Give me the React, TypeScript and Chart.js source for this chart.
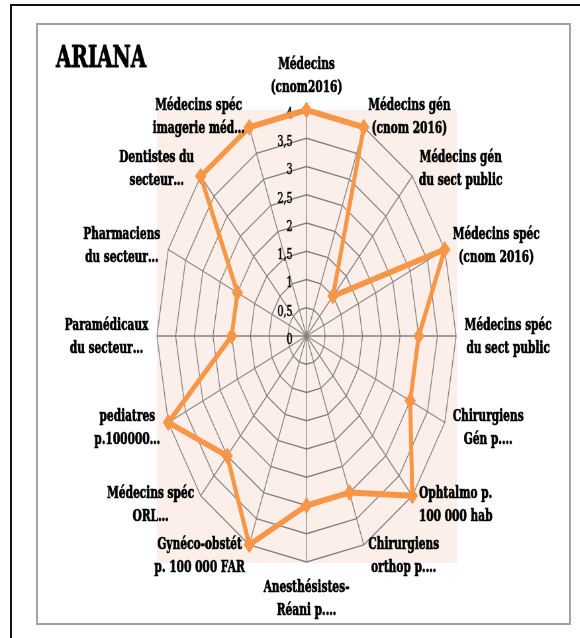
import React, { useEffect, useRef } from 'react';
import { Chart, registerables } from 'chart.js';

Chart.register(...registerables);

const TITLE = 'ARIANA';

const categories: string[][] = [
  ['Médecins', '(cnom2016)'],
  ['Médecins gén', '(cnom 2016)'],
  ['Médecins gén', 'du sect public'],
  ['Médecins spéc', '(cnom 2016)'],
  ['Médecins spéc', 'du sect public'],
  ['Chirurgiens', 'Gén p.…'],
  ['Ophtalmo p.', '100 000 hab'],
  ['Chirurgiens', 'orthop p.…'],
  ['Anesthésistes-', 'Réani p.…'],
  ['Gynéco-obstét', 'p. 100 000 FAR'],
  ['Médecins spéc', 'ORL…'],
  ['pediatres', 'p.100000…'],
  ['Paramédicaux', 'du secteur…'],
  ['Pharmaciens', 'du secteur…'],
  ['Dentistes du', 'secteur…'],
  ['Médecins spéc', 'imagerie méd…'],
];

const values: number[] = [4, 4, 1, 4, 3, 3, 4, 3, 3, 4, 3, 4, 2, 2, 4, 4];

const tickValues: number[] = [0, 0.5, 1, 1.5, 2, 2.5, 3, 3.5, 4];
const tickLabels: string[] = ['0', '0,5', '1', '1,5', '2', '2,5', '3', '3,5', '4'];

// the reference picture is squeezed horizontally
const K = 0.662;
const W = Math.round(580 / K);
const H = 638;

const ORANGE = '#F79646';
const GRID = '#808080';
const PLOT_BG = '#FCEEE8';
const LABEL_FONT = 'bold 16px "DejaVu Serif"';
const TICK_FONT = '14.5px "DejaVu Serif"';
const TITLE_FONT = 'bold 30px "DejaVu Serif"';

const decorPlugin = {
  id: 'decor',
  beforeDraw(chart: any) {
    const { ctx, chartArea: a } = chart;
    ctx.save();
    ctx.fillStyle = PLOT_BG;
    ctx.fillRect(a.left, a.top, a.right - a.left, a.bottom - a.top);
    ctx.restore();
  },
  beforeDatasetsDraw(chart: any) {
    const { ctx } = chart;
    const scale = chart.scales.r;
    ctx.save();
    ctx.font = TICK_FONT;
    ctx.fillStyle = '#000';
    ctx.strokeStyle = '#000';
    ctx.lineWidth = 0.5;
    ctx.textAlign = 'right';
    ctx.textBaseline = 'middle';
    tickValues.forEach((v, i) => {
      const r = scale.getDistanceFromCenterForValue(v);
      const x = scale.xCenter - 21;
      const y = scale.yCenter - r + 4;
      ctx.fillText(tickLabels[i], x, y);
      ctx.strokeText(tickLabels[i], x, y);
    });
    ctx.restore();
  },
  afterDraw(chart: any) {
    const { ctx } = chart;
    const scale = chart.scales.r;
    ctx.save();
    // title
    ctx.font = TITLE_FONT;
    ctx.fillStyle = '#000';
    ctx.strokeStyle = '#000';
    ctx.textAlign = 'left';
    ctx.textBaseline = 'alphabetic';
    ctx.lineWidth = 1;
    ctx.fillText(TITLE, 56 / K, 67);
    ctx.strokeText(TITLE, 56 / K, 67);
    // point labels
    ctx.font = LABEL_FONT;
    ctx.lineWidth = 0.7;
    ctx.textBaseline = 'middle';
    ctx.textAlign = 'center';
    const n = categories.length;
    const lh = 23;
    categories.forEach((lines, i) => {
      const th = (i * 2 * Math.PI) / n;
      const s = Math.sin(th);
      const c = Math.cos(th);
      const p = scale.getPointPosition(i, scale.drawingArea);
      const bw = Math.max(...lines.map((l) => ctx.measureText(l).width));
      let cx: number;
      let cy: number;
      if (Math.abs(s) < 0.01) {
        cx = p.x;
        cy = p.y + (c > 0 ? -34 : 37.5);
      } else {
        const gap = (2 + 6.5 * Math.abs(s)) / K;
        cy = p.y + 1 - 11.5 * c;
        cx = s > 0 ? p.x + gap + bw / 2 : p.x - gap - bw / 2;
      }
      const y0 = cy - ((lines.length - 1) * lh) / 2;
      lines.forEach((l, j) => {
        ctx.fillText(l, cx, y0 + j * lh);
        ctx.strokeText(l, cx, y0 + j * lh);
      });
    });
    ctx.restore();
  },
};

export default function App() {
  const ref = useRef<HTMLCanvasElement | null>(null);

  useEffect(() => {
    document.body.style.overflow = 'hidden';
    const canvas = ref.current;
    if (!canvas) return;
    const chart = new Chart(canvas, {
      type: 'radar',
      data: {
        labels: categories,
        datasets: [
          {
            data: values,
            borderColor: ORANGE,
            backgroundColor: ORANGE,
            borderWidth: 6,
            borderJoinStyle: 'round',
            fill: false,
            tension: 0,
            pointStyle: 'rectRot',
            pointRadius: 8,
            pointBackgroundColor: ORANGE,
            pointBorderColor: ORANGE,
            pointBorderWidth: 1,
          },
        ],
      },
      options: {
        responsive: false,
        maintainAspectRatio: false,
        animation: false,
        devicePixelRatio: 1,
        layout: {
          padding: { left: 237, right: W - 690, top: 110, bottom: H - 563 },
        },
        plugins: {
          legend: { display: false },
          tooltip: { enabled: false },
          title: { display: false },
        },
        scales: {
          r: {
            min: 0,
            max: 4,
            ticks: { stepSize: 0.5, display: false },
            grid: { circular: false, color: GRID, lineWidth: 1.3 },
            angleLines: { display: true, color: GRID, lineWidth: 1.3 },
            pointLabels: { display: false },
          },
        },
      },
      plugins: [decorPlugin],
    });
    return () => chart.destroy();
  }, []);

  return (
    <div>
      <div
        style={{
          position: 'fixed',
          left: 10,
          top: 4,
          width: 620,
          height: 700,
          borderTop: '2px solid #111',
          borderLeft: '2px solid #111',
          boxSizing: 'border-box',
        }}
      />
      <div
        style={{
          position: 'fixed',
          left: 36,
          top: 23,
          width: 535,
          height: 602,
          border: '2px solid #a3a3a3',
          boxSizing: 'border-box',
        }}
      />
      <div
        style={{
          position: 'fixed',
          left: 0,
          top: 0,
          width: W,
          height: H,
          transform: `scaleX(${K})`,
          transformOrigin: '0 0',
        }}
      >
        <canvas ref={ref} width={W} height={H} style={{ width: W, height: H, display: 'block' }} />
      </div>
    </div>
  );
}
